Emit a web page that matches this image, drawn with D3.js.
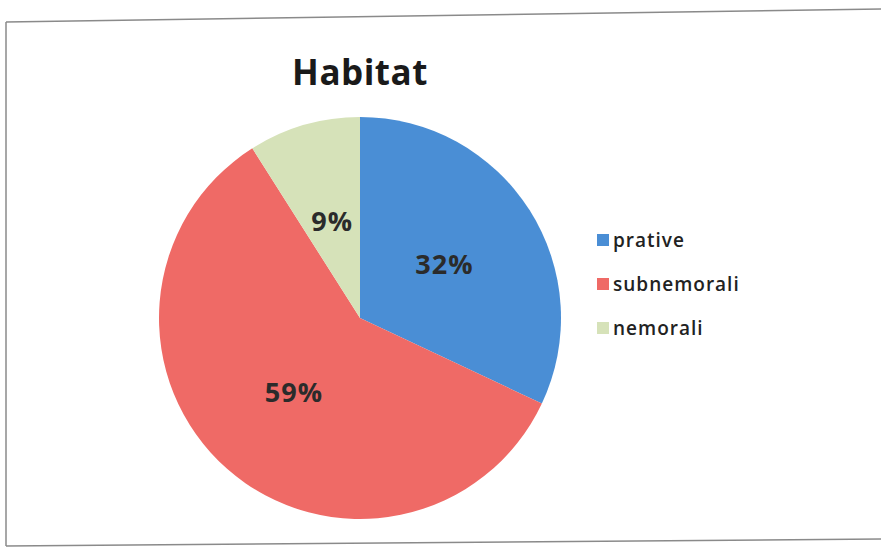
<!DOCTYPE html>
<html>
<head>
<meta charset="utf-8">
<script src="https://cdn.jsdelivr.net/npm/d3@7"></script>
<style>
  body { margin: 0; background: #fff; }
  svg { display: block; }
</style>
</head>
<body>
<div id="chart"></div>
<script>
const categories = ["prative", "subnemorali", "nemorali"];
const values = [32, 59, 9];
const colors = ["#4a8ed5", "#ef6a66", "#d6e2b9"];
const title = "Habitat";

const width = 881, height = 547;
const cx = 360, cy = 318, radius = 201;

const svg = d3.select("#chart").append("svg")
  .attr("width", width)
  .attr("height", height);

// scanned frame edges
const frame = svg.append("g")
  .attr("fill", "none")
  .attr("stroke", "#8a8a8a")
  .attr("stroke-width", 1.5);
frame.append("path").attr("d", "M6,22 L881,9");
frame.append("path").attr("d", "M6,22 L6,546");
frame.append("path").attr("d", "M6,546 L881,539");

svg.append("text")
  .attr("x", 360)
  .attr("y", 85)
  .attr("text-anchor", "middle")
  .attr("font-family", "'Open Sans', sans-serif")
  .attr("font-weight", "bold")
  .attr("font-size", 35)
  .attr("letter-spacing", 0.5)
  .attr("fill", "#1a1a1a")
  .text(title);

const data = categories.map((c, i) => ({ name: c, value: values[i], color: colors[i] }));

const pie = d3.pie().value(d => d.value).sort(null);
const arc = d3.arc().innerRadius(0).outerRadius(radius);
const labelArc = d3.arc().innerRadius(100).outerRadius(100);

const g = svg.append("g").attr("transform", `translate(${cx},${cy})`);

const slices = g.selectAll("g.slice")
  .data(pie(data))
  .enter().append("g")
  .attr("class", "slice");

slices.append("path")
  .attr("d", arc)
  .attr("fill", d => d.data.color);

slices.append("text")
  .attr("transform", d => `translate(${labelArc.centroid(d)})`)
  .attr("text-anchor", "middle")
  .attr("dy", "0.35em")
  .attr("font-family", "'Open Sans', sans-serif")
  .attr("font-weight", "bold")
  .attr("font-size", 27)
  .attr("letter-spacing", 1)
  .attr("fill", "#2b2b2b")
  .text(d => d.data.value + "%");

const legend = svg.append("g").attr("transform", "translate(597,240)");
const item = legend.selectAll("g")
  .data(data)
  .enter().append("g")
  .attr("transform", (d, i) => `translate(0,${i * 44})`);

item.append("rect")
  .attr("x", 0)
  .attr("y", -6)
  .attr("width", 12)
  .attr("height", 12)
  .attr("fill", d => d.color);

item.append("text")
  .attr("x", 16)
  .attr("dy", "0.35em")
  .attr("font-family", "'Open Sans', sans-serif")
  .attr("font-weight", 600)
  .attr("font-size", 19)
  .attr("letter-spacing", 1)
  .attr("fill", "#222")
  .text(d => d.name);
</script>
</body>
</html>
